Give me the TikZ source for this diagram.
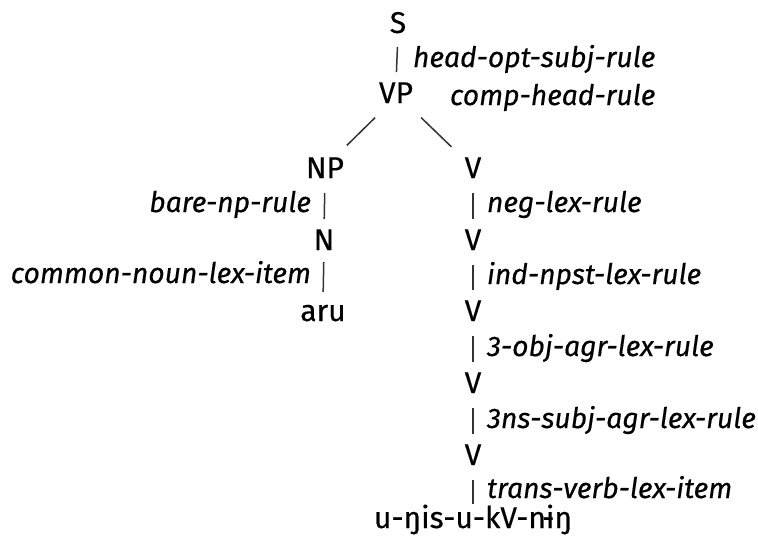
\documentclass[tikz,border=0pt]{standalone}
\usepackage{fontspec}
\setmainfont[FakeBold=0.4]{Fira Sans}
\begin{document}
\begin{tikzpicture}[x=1pt,y=-1pt,
  cat/.style={inner sep=0pt, outer sep=0pt, anchor=base, text height=20pt,
    text depth=0pt, text=black, font=\fontsize{30}{36}\selectfont},
  rlab/.style={inner sep=0pt, outer sep=0pt, text=black,
    font=\fontsize{28.3}{34}\selectfont\itshape},
  rlabR/.style={rlab, anchor=base west},
  rlabL/.style={rlab, anchor=base east},
  edge/.style={line width=1.5pt, draw=black!80},
  bar/.style={edge, shorten <=15pt, shorten >=11pt}]
\useasboundingbox[fill=white] (0,0) rectangle (758,541);

% categories
\node[cat] (S)  at (398,33)  {S};
\node[cat] (VP) at (396,103) {VP};
\node[cat] (NP) at (325,178) {NP};
\node[cat] (N)  at (324,250) {N};
\node[cat] (aru) at (323,321) {aru};
\node[cat] (V1) at (473,178) {V};
\node[cat] (V2) at (473,250) {V};
\node[cat] (V3) at (473,321) {V};
\node[cat] (V4) at (473,393) {V};
\node[cat] (V5) at (473,465) {V};
\node[cat] (w)  at (473,528) {u-ŋis-u-kV-nɨŋ};

% rule names
\node[rlabR] (l1) at (413,67)  {head-opt-subj-rule};
\node[rlabR] (l2) at (450,105) {comp-head-rule};
\node[rlabL] (l3) at (311,212) {bare-np-rule};
\node[rlabL] (l4) at (311,283) {common-noun-lex-item};
\node[rlabR] (l5) at (487,212) {neg-lex-rule};
\node[rlabR] (l6) at (487,284) {ind-npst-lex-rule};
\node[rlabR] (l7) at (487,356) {3-obj-agr-lex-rule};
\node[rlabR] (l8) at (487,428) {3ns-subj-agr-lex-rule};
\node[rlabR] (l9) at (487,498) {trans-verb-lex-item};

% branches
\draw[bar, shorten <=14pt] (S.south) -- (VP.north);
\draw[edge, shorten <=21pt, shorten >=18pt] ([xshift=-6pt]VP.south) -- ([xshift=9pt]NP.north);
\draw[edge, shorten <=21pt, shorten >=16pt] ([xshift=10pt]VP.south) -- ([xshift=-10pt]V1.north);
\draw[bar] (NP.south) -- (N.north);
\draw[bar, shorten <=12pt, shorten >=9pt] (N.south) -- (aru.north);
\draw[bar] (V1.south) -- (V2.north);
\draw[bar] (V2.south) -- (V3.north);
\draw[bar] (V3.south) -- (V4.north);
\draw[bar] (V4.south) -- (V5.north);
\draw[bar, shorten >=4pt] (V5.south) -- (w.north);
\end{tikzpicture}
\end{document}
